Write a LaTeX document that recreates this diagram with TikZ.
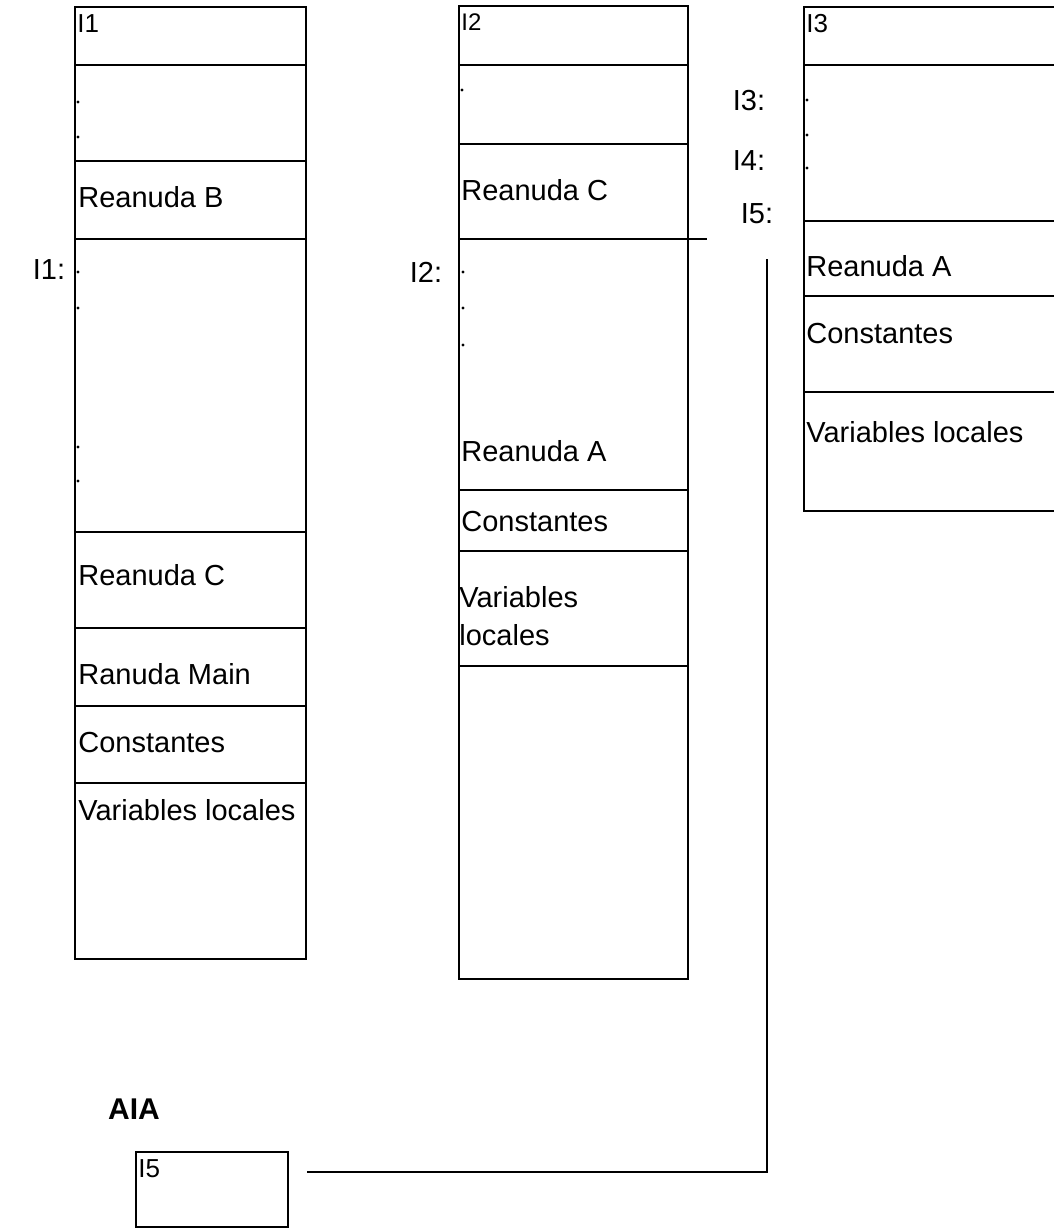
\documentclass[tikz,border=0pt]{standalone}
\usepackage{fontspec}
\setmainfont{Liberation Sans}
\usetikzlibrary{fit}
\begin{document}
\begin{tikzpicture}[x=0.5pt,y=-0.5pt,
  cellbox/.style={draw, line width=0.9pt, inner sep=0pt, outer sep=0pt, rectangle},
  lbl/.style={anchor=west, inner sep=0pt, font=\fontsize{14.5}{19}\selectfont},
  tag/.style={anchor=west, inner sep=0pt, font=\fontsize{13}{15}\selectfont},
  addr/.style={inner sep=0pt, font=\fontsize{14.5}{17}\selectfont},
  dotmark/.style={circle, fill, inner sep=0pt, minimum size=1.6pt},
  wire/.style={line width=0.9pt}]
\useasboundingbox (0,0) rectangle (1053,1229);

% ---- stack frame of I1 ----
\node[cellbox, fit={(75,7) (306,65)}]    (a0) {};
\node[cellbox, fit={(75,65) (306,161)}]  (a1) {};
\node[cellbox, fit={(75,161) (306,239)}] (a2) {};
\node[cellbox, fit={(75,239) (306,532)}] (a3) {};
\node[cellbox, fit={(75,532) (306,628)}] (a4) {};
\node[cellbox, fit={(75,628) (306,706)}] (a5) {};
\node[cellbox, fit={(75,706) (306,783)}] (a6) {};
\node[cellbox, fit={(75,783) (306,959)}] (a7) {};

\node[tag] (a0t) at (77,24) {I1};
\node[lbl] (a2t) at (78,197) {Reanuda B};
\node[lbl] (a4t) at (78,575) {Reanuda C};
\node[lbl] (a5t) at (78,674) {Ranuda Main};
\node[lbl] (a6t) at (78,743) {Constantes};
\node[lbl] (a7t) at (78,810) {Variables locales};
\node[addr] (l1) at (49,270) {I1:};

\node[dotmark] (ad1) at (78,102) {};
\node[dotmark] (ad2) at (78,137) {};
\node[dotmark] (ad3) at (78,272) {};
\node[dotmark] (ad4) at (78,308) {};
\node[dotmark] (ad5) at (78,447) {};
\node[dotmark] (ad6) at (78,481) {};

% ---- stack frame of I2 ----
\node[cellbox, fit={(459,6) (688,65)}]    (b0) {};
\node[cellbox, fit={(459,65) (688,144)}]  (b1) {};
\node[cellbox, fit={(459,144) (688,239)}] (b2) {};
\node[cellbox, fit={(459,239) (688,490)}] (b3) {};
\node[cellbox, fit={(459,490) (688,551)}] (b4) {};
\node[cellbox, fit={(459,551) (688,666)}] (b5) {};
\node[cellbox, fit={(459,666) (688,979)}] (b6) {};

\node[tag, font=\fontsize{12}{14}\selectfont] (b0t) at (461,22) {I2};
\node[lbl] (b2t) at (461,190) {Reanuda C};
\node[lbl] (b3t) at (461,451) {Reanuda A};
\node[lbl] (b4t) at (461,522) {Constantes};
\node[lbl, align=left] (b5t) at (459,616) {Variables\\locales};
\node[addr] (l2) at (426,272) {I2:};

\node[dotmark] (bd1) at (462,90) {};
\node[dotmark] (bd2) at (463,272) {};
\node[dotmark] (bd3) at (463,308) {};
\node[dotmark] (bd4) at (463,345) {};

% ---- stack frame of I3 ----
\node[cellbox, fit={(804,7) (1062,65)}]    (c0) {};
\node[cellbox, fit={(804,65) (1062,221)}]  (c1) {};
\node[cellbox, fit={(804,221) (1062,296)}] (c2) {};
\node[cellbox, fit={(804,296) (1062,392)}] (c3) {};
\node[cellbox, fit={(804,392) (1062,511)}] (c4) {};

\node[tag] (c0t) at (806,24) {I3};
\node[lbl] (c2t) at (806,266) {Reanuda A};
\node[lbl] (c3t) at (806,334) {Constantes};
\node[lbl] (c4t) at (806,432) {Variables locales};
\node[addr] (l3) at (749,101) {I3:};
\node[addr] (l4) at (749,161) {I4:};
\node[addr] (l5) at (757,214) {I5:};

\node[dotmark] (cd1) at (807,100) {};
\node[dotmark] (cd2) at (807,135) {};
\node[dotmark] (cd3) at (807,168) {};

% ---- AIA register ----
\node[font=\bfseries\fontsize{15}{18}\selectfont, inner sep=0pt] (aiat) at (134,1109) {AIA};
\node[cellbox, fit={(136,1152) (288,1227)}] (aia) {};
\node[tag] (aiav) at (138,1169) {I5};

% ---- links ----
\coordinate (tailend) at (707,239);
\draw[wire] (b2.south east) -- (tailend);

\coordinate (wstart) at (307,1172);
\coordinate (wtop) at (767,259);
\draw[wire] (wstart) -| (wtop);
\end{tikzpicture}
\end{document}
